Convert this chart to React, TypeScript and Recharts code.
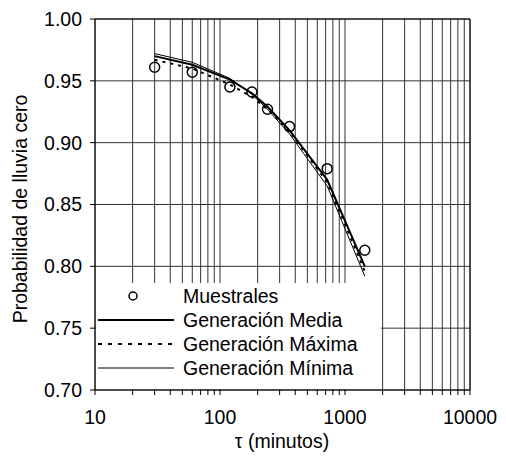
import {
  LineChart,
  Line,
  XAxis,
  YAxis,
  CartesianGrid,
  ReferenceLine,
} from "recharts";

const TAU = [30, 60, 120, 180, 240, 360, 720, 1440];
const MUESTRALES = [0.961, 0.957, 0.945, 0.941, 0.927, 0.913, 0.879, 0.813];
const MEDIA = [0.970, 0.963, 0.951, 0.940, 0.929, 0.910, 0.870, 0.800];
const MAXIMA = [0.967, 0.960, 0.947, 0.937, 0.927, 0.909, 0.868, 0.796];
const MINIMA = [0.972, 0.965, 0.952, 0.939, 0.927, 0.907, 0.865, 0.792];

const X_TICKS = [
  10, 20, 30, 40, 50, 60, 70, 80, 90,
  100, 200, 300, 400, 500, 600, 700, 800, 900,
  1000, 2000, 3000, 4000, 5000, 6000, 7000, 8000, 9000,
  10000,
];
const X_LABELS = [10, 100, 1000, 10000];
const Y_TICKS = [0.7, 0.75, 0.8, 0.85, 0.9, 0.95, 1.0];

const SERIES = [
  { key: "muestrales", name: "Muestrales", values: MUESTRALES },
  { key: "media", name: "Generación Media", values: MEDIA },
  { key: "maxima", name: "Generación Máxima", values: MAXIMA },
  { key: "minima", name: "Generación Mínima", values: MINIMA },
];

const data = TAU.map((t, i) => {
  const row: Record<string, number> = { tau: t };
  SERIES.forEach((s) => (row[s.key] = s.values[i]));
  return row;
});

const FONT = "'Liberation Sans', Arial, sans-serif";
const FS = 19.5;

function Swatch({ k }: { k: string }) {
  if (k === "muestrales")
    return (
      <svg width={82} height={12}>
        <circle cx={37} cy={6} r={4} fill="none" stroke="#000" strokeWidth={1.5} />
      </svg>
    );
  if (k === "media")
    return (
      <svg width={82} height={12}>
        <line x1={2} x2={78} y1={6} y2={6} stroke="#000" strokeWidth={2} />
      </svg>
    );
  if (k === "maxima")
    return (
      <svg width={82} height={12}>
        <line x1={2} x2={78} y1={6} y2={6} stroke="#000" strokeWidth={2} strokeDasharray="4 6" />
      </svg>
    );
  return (
    <svg width={82} height={12}>
      <line x1={2} x2={78} y1={6} y2={6} stroke="#000" strokeWidth={1} />
    </svg>
  );
}

function LegendBox() {
  return (
    <div
      style={{
        position: "absolute",
        left: 96,
        top: 283,
        width: 285,
        height: 106,
        background: "#fff",
        paddingTop: 1,
        boxSizing: "border-box",
        fontFamily: FONT,
        fontSize: FS,
        lineHeight: "24px",
        color: "#000",
      }}
    >
      {SERIES.map((s) => (
        <div key={s.key} style={{ display: "flex", alignItems: "center", height: 24 }}>
          <Swatch k={s.key} />
          <span style={{ marginLeft: 5, whiteSpace: "nowrap" }}>{s.name}</span>
        </div>
      ))}
    </div>
  );
}

export default function App() {
  return (
    <div style={{ position: "absolute", left: 0, top: 0, width: 506, height: 459, background: "#fff" }}>
      <LineChart
        width={506}
        height={459}
        data={data}
        margin={{ top: 19, right: 36, left: 0, bottom: 39 }}
      >
        <CartesianGrid stroke="#333" strokeWidth={1} />
        <XAxis
          dataKey="tau"
          type="number"
          scale="log"
          domain={[10, 10000]}
          ticks={X_TICKS}
          interval={0}
          allowDataOverflow
          tickFormatter={(v: number) => (X_LABELS.includes(v) ? String(v) : "")}
          tick={{ fontSize: FS, fill: "#000", fontFamily: FONT }}
          tickSize={5}
          tickMargin={15}
          stroke="#000"
          label={{
            content: () => (
              <text x={282} y={448} textAnchor="middle" fontSize={FS} fontFamily={FONT} fill="#000">
                τ (minutos)
              </text>
            ),
          }}
        />
        <YAxis
          type="number"
          domain={[0.7, 1.0]}
          ticks={Y_TICKS}
          interval={0}
          width={95}
          tickFormatter={(v: number) => v.toFixed(2)}
          tick={{ fontSize: FS, fill: "#000", fontFamily: FONT }}
          tickSize={5}
          tickMargin={8}
          stroke="#000"
          label={{
            content: () => (
              <text
                x={27}
                y={209}
                transform="rotate(-90 27 209)"
                textAnchor="middle"
                fontSize={FS}
                fontFamily={FONT}
                fill="#000"
              >
                Probabilidad de lluvia cero
              </text>
            ),
          }}
        />
        <ReferenceLine y={1.0} stroke="#000" />
        <ReferenceLine x={10000} stroke="#000" />
        <Line
          dataKey="maxima"
          name="Generación Máxima"
          stroke="#000"
          strokeWidth={2}
          strokeDasharray="3 5"
          dot={false}
          isAnimationActive={false}
        />
        <Line
          dataKey="minima"
          name="Generación Mínima"
          stroke="#000"
          strokeWidth={1}
          dot={false}
          isAnimationActive={false}
        />
        <Line
          dataKey="media"
          name="Generación Media"
          stroke="#000"
          strokeWidth={2}
          dot={false}
          isAnimationActive={false}
        />
        <Line
          dataKey="muestrales"
          name="Muestrales"
          stroke="none"
          dot={{ r: 5, fill: "none", stroke: "#000", strokeWidth: 1.5 }}
          isAnimationActive={false}
        />
      </LineChart>
      <LegendBox />
    </div>
  );
}
